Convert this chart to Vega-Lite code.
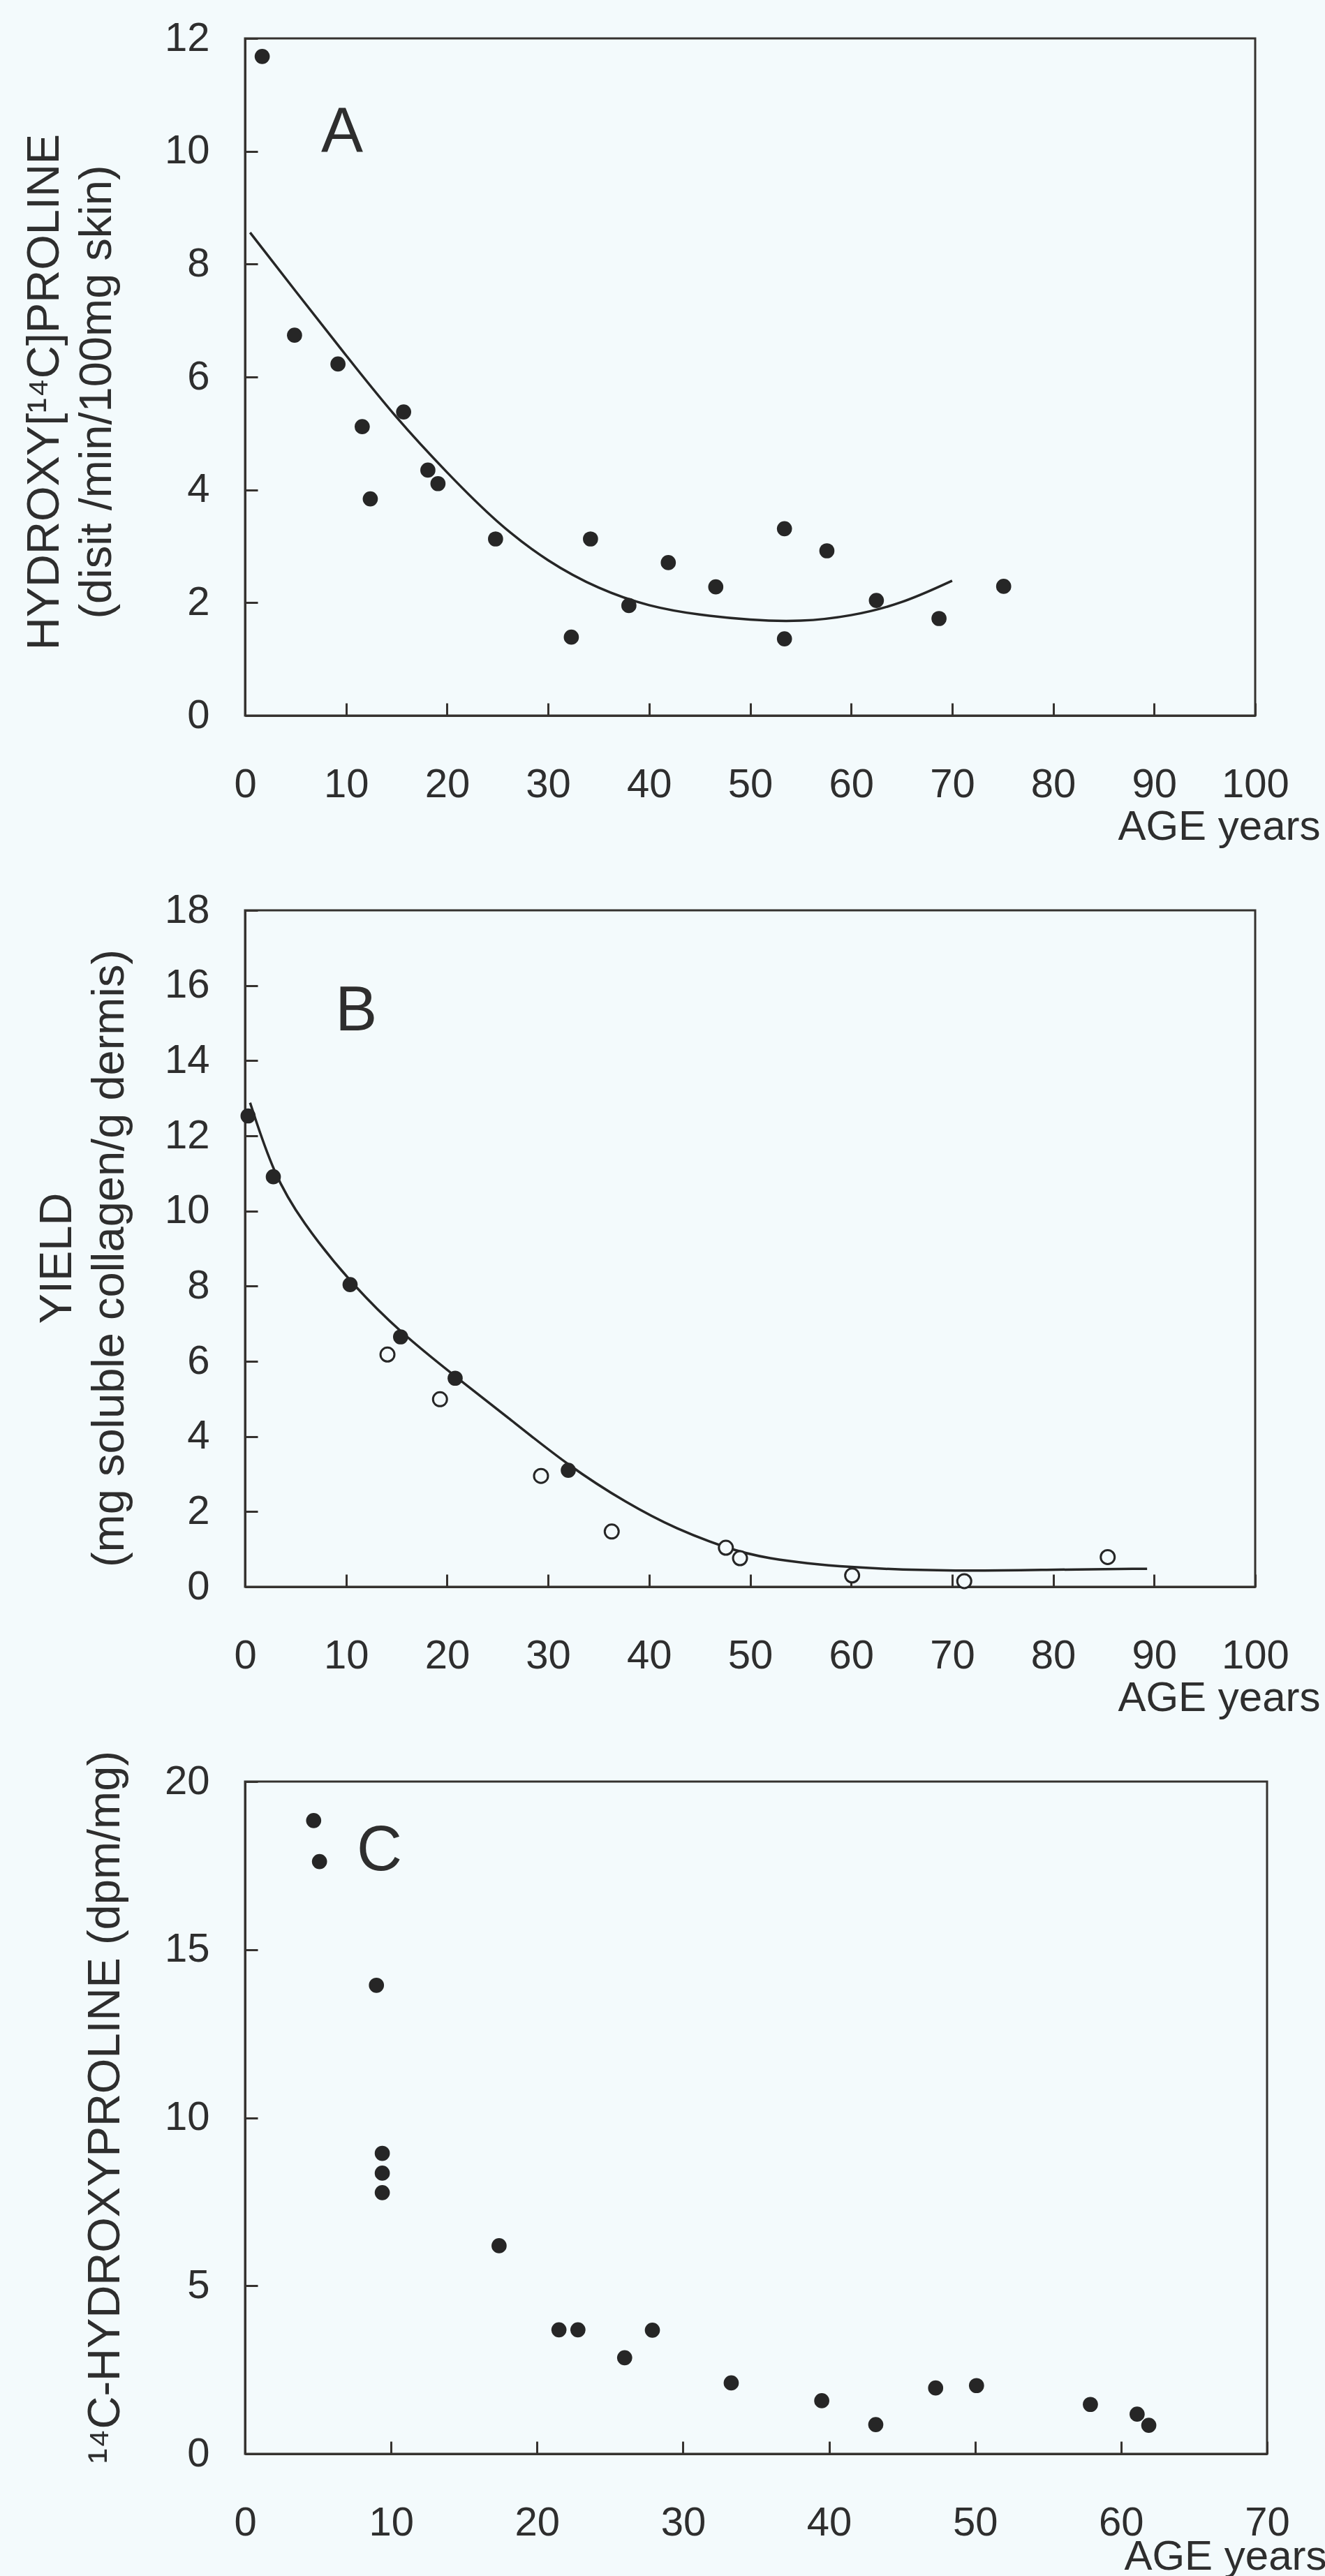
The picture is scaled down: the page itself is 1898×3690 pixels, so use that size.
{
  "$schema": "https://vega.github.io/schema/vega-lite/v6.json",
  "background": "#f3fafc",
  "padding": {"left": 29, "top": 24, "right": 0, "bottom": 0},
  "autosize": {"type": "pad"},
  "spacing": 279,
  "bounds": "flush",
  "config": {
    "font": "Liberation Sans",
    "view": {"stroke": "#35322f", "strokeWidth": 3},
    "axis": {
      "domainColor": "#35322f", "domainWidth": 3,
      "tickColor": "#35322f", "tickWidth": 3, "tickSize": -18,
      "labelFont": "Liberation Sans", "labelFontSize": 58, "labelColor": "#2e2e2e",
      "labelFlush": false, "labelOverlap": false,
      "titleFont": "Liberation Sans", "titleFontWeight": "normal", "titleColor": "#2e2e2e",
      "grid": false
    }
  },
  "datasets": {
    "a_pts": [
      {"age": 1.7, "value": 11.68}, {"age": 4.9, "value": 6.74}, {"age": 9.2, "value": 6.23},
      {"age": 11.6, "value": 5.12}, {"age": 12.4, "value": 3.84}, {"age": 15.7, "value": 5.38},
      {"age": 18.1, "value": 4.35}, {"age": 19.1, "value": 4.11}, {"age": 24.8, "value": 3.13},
      {"age": 32.3, "value": 1.39}, {"age": 34.2, "value": 3.13}, {"age": 38.0, "value": 1.95},
      {"age": 41.9, "value": 2.71}, {"age": 46.6, "value": 2.28}, {"age": 53.4, "value": 3.31},
      {"age": 53.4, "value": 1.36}, {"age": 57.6, "value": 2.92}, {"age": 62.5, "value": 2.04},
      {"age": 68.7, "value": 1.72}, {"age": 75.1, "value": 2.29}
    ],
    "a_fit": [
      {"age": 0.5, "value": 8.56}, {"age": 5, "value": 7.52}, {"age": 10, "value": 6.38},
      {"age": 15, "value": 5.26}, {"age": 20, "value": 4.3}, {"age": 25, "value": 3.4},
      {"age": 30, "value": 2.72}, {"age": 35, "value": 2.24}, {"age": 40, "value": 1.93},
      {"age": 45, "value": 1.78}, {"age": 50, "value": 1.69}, {"age": 55, "value": 1.66},
      {"age": 60, "value": 1.76}, {"age": 65, "value": 1.98}, {"age": 70, "value": 2.39}
    ],
    "a_label": [{"age": 9.6, "value": 10.0, "label": "A"}],
    "b_filled": [
      {"age": 0.3, "value": 12.53}, {"age": 2.8, "value": 10.91}, {"age": 10.4, "value": 8.04},
      {"age": 15.4, "value": 6.65}, {"age": 20.8, "value": 5.55}, {"age": 32.0, "value": 3.1}
    ],
    "b_open": [
      {"age": 14.1, "value": 6.18}, {"age": 19.3, "value": 4.99}, {"age": 29.3, "value": 2.95},
      {"age": 36.3, "value": 1.47}, {"age": 47.6, "value": 1.04}, {"age": 49.0, "value": 0.76},
      {"age": 60.1, "value": 0.3}, {"age": 71.2, "value": 0.15}, {"age": 85.4, "value": 0.79}
    ],
    "b_fit": [
      {"age": 0.5, "value": 12.88}, {"age": 2.8, "value": 11.0}, {"age": 5.6, "value": 9.72},
      {"age": 10.4, "value": 8.1}, {"age": 15.4, "value": 6.76}, {"age": 20.8, "value": 5.6},
      {"age": 26.1, "value": 4.49}, {"age": 32.0, "value": 3.22}, {"age": 37.8, "value": 2.22},
      {"age": 42.8, "value": 1.52}, {"age": 47.6, "value": 1.04}, {"age": 51.2, "value": 0.76},
      {"age": 59.6, "value": 0.5}, {"age": 70.5, "value": 0.41}, {"age": 80.5, "value": 0.46},
      {"age": 89.3, "value": 0.48}
    ],
    "b_label": [{"age": 11.0, "value": 14.8, "label": "B"}],
    "c_pts": [
      {"age": 4.7, "value": 18.84}, {"age": 5.1, "value": 17.62}, {"age": 9.0, "value": 13.94},
      {"age": 9.4, "value": 8.94}, {"age": 9.4, "value": 8.35}, {"age": 9.4, "value": 7.77},
      {"age": 17.4, "value": 6.19}, {"age": 21.5, "value": 3.69}, {"age": 22.8, "value": 3.69},
      {"age": 26.0, "value": 2.86}, {"age": 27.9, "value": 3.68}, {"age": 33.3, "value": 2.11},
      {"age": 39.5, "value": 1.58}, {"age": 43.2, "value": 0.87}, {"age": 47.3, "value": 1.96},
      {"age": 50.1, "value": 2.03}, {"age": 57.9, "value": 1.47}, {"age": 61.1, "value": 1.18},
      {"age": 61.9, "value": 0.85}
    ],
    "c_label": [{"age": 9.2, "value": 17.36, "label": "C"}]
  },
  "vconcat": [
    {
      "width": 1447, "height": 970,
      "encoding": {
        "x": {"field": "age", "type": "quantitative",
          "scale": {"domain": [0, 100], "nice": false, "zero": false},
          "axis": {"title": "AGE years", "values": [0, 10, 20, 30, 40, 50, 60, 70, 80, 90, 100],
            "labelPadding": 88, "titleFontSize": 60, "titleX": 1540, "titleY": 177,
            "titleAlign": "right", "titleBaseline": "alphabetic", "titleAngle": 0}},
        "y": {"field": "value", "type": "quantitative",
          "scale": {"domain": [0, 12], "nice": false},
          "axis": {"title": ["HYDROXY[¹⁴C]PROLINE", "(disit /min/100mg skin)"],
            "values": [0, 2, 4, 6, 8, 10, 12], "labelPadding": 69,
            "titleFontSize": 65, "titleLineHeight": 75, "titleX": -268, "titleY": 506,
            "titleAngle": -90, "titleAlign": "center", "titleBaseline": "alphabetic"}}
      },
      "layer": [
        {"data": {"name": "a_fit"}, "mark": {"type": "line", "color": "#262626", "strokeWidth": 3.5, "interpolate": "basis"}},
        {"data": {"name": "a_pts"}, "mark": {"type": "circle", "size": 470, "color": "#262626", "opacity": 1}},
        {"data": {"name": "a_label"}, "mark": {"type": "text", "fontSize": 90, "color": "#2e2e2e", "align": "center", "baseline": "alphabetic"},
          "encoding": {"text": {"field": "label"}}}
      ]
    },
    {
      "width": 1447, "height": 969,
      "encoding": {
        "x": {"field": "age", "type": "quantitative",
          "scale": {"domain": [0, 100], "nice": false, "zero": false},
          "axis": {"title": "AGE years", "values": [0, 10, 20, 30, 40, 50, 60, 70, 80, 90, 100],
            "labelPadding": 88, "titleFontSize": 60, "titleX": 1540, "titleY": 177,
            "titleAlign": "right", "titleBaseline": "alphabetic", "titleAngle": 0}},
        "y": {"field": "value", "type": "quantitative",
          "scale": {"domain": [0, 18], "nice": false},
          "axis": {"title": ["YIELD", "(mg soluble collagen/g dermis)"],
            "values": [0, 2, 4, 6, 8, 10, 12, 14, 16, 18], "labelPadding": 69,
            "titleFontSize": 65, "titleLineHeight": 75, "titleX": -250, "titleY": 498,
            "titleAngle": -90, "titleAlign": "center", "titleBaseline": "alphabetic"}}
      },
      "layer": [
        {"data": {"name": "b_fit"}, "mark": {"type": "line", "color": "#262626", "strokeWidth": 3.5, "interpolate": "basis"}},
        {"data": {"name": "b_filled"}, "mark": {"type": "circle", "size": 470, "color": "#262626", "opacity": 1}},
        {"data": {"name": "b_open"}, "mark": {"type": "point", "shape": "circle", "size": 400, "filled": false, "fill": "#f3fafc", "fillOpacity": 1, "stroke": "#262626", "strokeWidth": 3, "opacity": 1}},
        {"data": {"name": "b_label"}, "mark": {"type": "text", "fontSize": 90, "color": "#2e2e2e", "align": "center", "baseline": "alphabetic"},
          "encoding": {"text": {"field": "label"}}}
      ]
    },
    {
      "width": 1464, "height": 963,
      "encoding": {
        "x": {"field": "age", "type": "quantitative",
          "scale": {"domain": [0, 70], "nice": false, "zero": false},
          "axis": {"title": "AGE years", "values": [0, 10, 20, 30, 40, 50, 60, 70],
            "labelPadding": 88, "titleFontSize": 60, "titleX": 1549, "titleY": 165,
            "titleAlign": "right", "titleBaseline": "alphabetic", "titleAngle": 0}},
        "y": {"field": "value", "type": "quantitative",
          "scale": {"domain": [0, 20], "nice": false},
          "axis": {"title": "¹⁴C-HYDROXYPROLINE (dpm/mg)",
            "values": [0, 5, 10, 15, 20], "labelPadding": 69,
            "titleFontSize": 65, "titleX": -181, "titleY": 466,
            "titleAngle": -90, "titleAlign": "center", "titleBaseline": "alphabetic"}}
      },
      "layer": [
        {"data": {"name": "c_pts"}, "mark": {"type": "circle", "size": 470, "color": "#262626", "opacity": 1}},
        {"data": {"name": "c_label"}, "mark": {"type": "text", "fontSize": 90, "color": "#2e2e2e", "align": "center", "baseline": "alphabetic"},
          "encoding": {"text": {"field": "label"}}}
      ]
    }
  ]
}
